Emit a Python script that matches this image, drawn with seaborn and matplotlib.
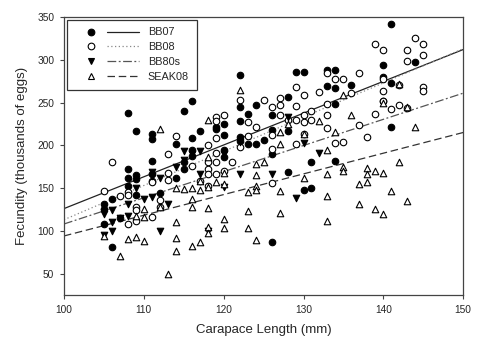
import pandas as pd
import matplotlib
matplotlib.use("Agg")
import matplotlib.pyplot as plt
from matplotlib.lines import Line2D
from matplotlib.legend_handler import HandlerTuple
import seaborn as sns

# carapace length (mm) and fecundity (thousands of eggs)
bb07_x = [105, 105, 105, 106, 106, 107, 108, 108, 108, 108, 109, 109, 109, 109,
          111, 111, 111, 111, 111, 112, 114, 114, 115, 115, 115, 116, 116, 116, 116,
          117, 119, 119, 120, 120, 120, 120, 122, 122, 122, 122, 122, 123, 123,
          124, 124, 125, 126, 126, 126, 126, 128, 128, 128, 129, 130, 130, 131, 131,
          133, 133, 134, 134, 134, 134, 136, 140, 140, 140, 141, 141, 141, 144]
bb07_y = [131, 126, 108, 137, 81, 115, 238, 162, 152, 172, 217, 165, 161, 142,
          213, 207, 182, 158, 167, 144, 201, 162, 240, 181, 172, 252, 208, 194, 188,
          217, 219, 222, 225, 212, 195, 186, 282, 245, 229, 210, 205, 237, 201,
          247, 201, 206, 235, 218, 190, 87, 256, 217, 169, 286, 286, 148, 180, 150,
          288, 269, 288, 267, 248, 182, 270, 294, 280, 252, 342, 273, 221, 298]

bb08_x = [105, 106, 107, 108, 108, 108, 109, 109, 109, 111, 111, 112, 112, 113, 113,
          113, 114, 116, 117, 118, 118, 118, 118, 118, 119, 119, 119, 119, 119, 119,
          120, 120, 121, 122, 122, 123, 123, 124, 125, 126, 126, 126, 126, 127, 127,
          127, 128, 129, 129, 129, 129, 130, 130, 130, 130, 131, 131, 132, 133, 133,
          133, 133, 134, 134, 135, 135, 136, 137, 137, 138, 139, 139, 140, 140, 140,
          140, 141, 142, 142, 143, 143, 143, 144, 145, 145, 145, 145]
bb08_y = [146, 180, 141, 145, 142, 108, 128, 124, 111, 157, 116, 136, 128, 190, 168,
          160, 211, 176, 158, 200, 180, 172, 166, 152, 233, 228, 208, 191, 180, 167,
          236, 170, 181, 253, 198, 227, 211, 222, 253, 245, 212, 196, 156, 255, 247,
          235, 230, 268, 246, 230, 201, 259, 235, 227, 213, 240, 230, 262, 285, 248,
          235, 220, 277, 203, 277, 204, 261, 285, 224, 210, 318, 237, 312, 277, 264,
          252, 242, 270, 247, 311, 299, 244, 325, 318, 306, 268, 263]

bb80s_x = [105, 105, 105, 106, 106, 106, 107, 108, 108, 109, 110, 111, 111, 111,
           112, 112, 113, 114, 115, 115, 116, 117, 117, 118, 120, 120, 122, 122,
           126, 128, 129, 130, 132]
bb80s_y = [122, 120, 95, 124, 110, 100, 115, 131, 117, 150, 137, 169, 164, 140,
           162, 100, 131, 175, 193, 183, 190, 193, 166, 100, 151, 190, 204, 167,
           166, 233, 138, 203, 191]

seak_x = [105, 107, 108, 109, 109, 110, 110, 110, 112, 112, 113, 114, 114, 114, 114,
          115, 116, 116, 116, 116, 117, 117, 117, 118, 118, 118, 118, 118, 118, 119,
          120, 120, 120, 120, 122, 123, 123, 123, 124, 124, 124, 124, 124, 125, 127,
          127, 127, 127, 128, 130, 130, 132, 133, 133, 133, 133, 134, 135, 135, 135,
          136, 137, 137, 138, 138, 138, 139, 139, 140, 140, 140, 141, 142, 142, 143,
          143, 144]
seak_y = [94, 71, 90, 93, 117, 88, 116, 125, 219, 128, 50, 110, 92, 76, 150,
          149, 150, 137, 128, 82, 148, 158, 87, 230, 186, 151, 127, 104, 98, 157,
          168, 155, 114, 103, 265, 145, 123, 103, 178, 165, 152, 148, 89, 181, 215,
          202, 146, 121, 225, 213, 162, 228, 194, 167, 141, 112, 215, 259, 175, 170,
          236, 155, 131, 174, 167, 157, 170, 126, 250, 168, 120, 146, 272, 180, 135,
          245, 221]

# fitted regression lines, value at x = 100 and x = 150
fit_x = [100, 150]
bb07_fit = [126, 312]
bb08_fit = [113, 313]
bb80s_fit = [108, 261]
seak_fit = [94, 215]

groups = ["BB07", "BB08", "BB80s", "SEAK08"]
xs = [bb07_x, bb08_x, bb80s_x, seak_x]
ys = [bb07_y, bb08_y, bb80s_y, seak_y]
fits = [bb07_fit, bb08_fit, bb80s_fit, seak_fit]

markers = ["o", "o", "v", "^"]
faces = ["black", "white", "black", "white"]
line_styles = ["-", (0, (1, 2)), (0, (7, 2, 1.5, 2)), (0, (6, 3))]
line_colors = ["#222222", "#888888", "#555555", "#333333"]

sns.set_style("ticks")
plt.rcParams["font.family"] = ["Liberation Sans", "DejaVu Sans"]

fig = plt.figure(figsize=(4.81, 3.41), dpi=100)
ax = fig.add_axes([0.133, 0.135, 0.830, 0.815])

for g, x, y, m, fc in zip(groups, xs, ys, markers, faces):
    df = pd.DataFrame({"CL": x, "Fec": y})
    sns.scatterplot(data=df, x="CL", y="Fec", marker=m, s=22, color=fc,
                    edgecolor="black", linewidth=0.8, ax=ax, zorder=3)

for g, f, ls, lc in zip(groups, fits, line_styles, line_colors):
    df = pd.DataFrame({"CL": fit_x, "Fec": f})
    sns.lineplot(data=df, x="CL", y="Fec", color=lc, linewidth=0.9,
                 linestyle=ls, ax=ax, zorder=2)

ax.set_xlim(100, 150)
ax.set_ylim(25, 350)
ax.set_xticks([100, 110, 120, 130, 140, 150])
ax.set_yticks([50, 100, 150, 200, 250, 300, 350])
ax.tick_params(labelsize=7.3, length=3, width=0.8, color="#444444", pad=4)
for sp in ax.spines.values():
    sp.set_visible(True)
    sp.set_linewidth(0.9)
    sp.set_color("#444444")
ax.set_xlabel("Carapace Length (mm)", fontsize=9.5, labelpad=7)
ax.set_ylabel("Fecundity (thousands of eggs)", fontsize=9.5, labelpad=7)

handles = []
for m, fc, ls, lc in zip(markers, faces, line_styles, line_colors):
    mk = Line2D([], [], marker=m, linestyle="none", markersize=4.8,
                markerfacecolor=fc, markeredgecolor="black", markeredgewidth=0.8)
    ln = Line2D([], [], color=lc, linestyle=ls, linewidth=0.9)
    handles.append((mk, ln))
leg = ax.legend(handles, groups, handler_map={tuple: HandlerTuple(ndivide=None, pad=0.0)},
                loc="upper left", fontsize=7.8, frameon=True, fancybox=False,
                edgecolor="#333333", framealpha=1, handlelength=6.0,
                borderpad=0.7, labelspacing=0.45, handletextpad=0.8,
                borderaxespad=0.25)
leg.get_frame().set_linewidth(0.9)

fig.savefig("out.png", dpi=100)
